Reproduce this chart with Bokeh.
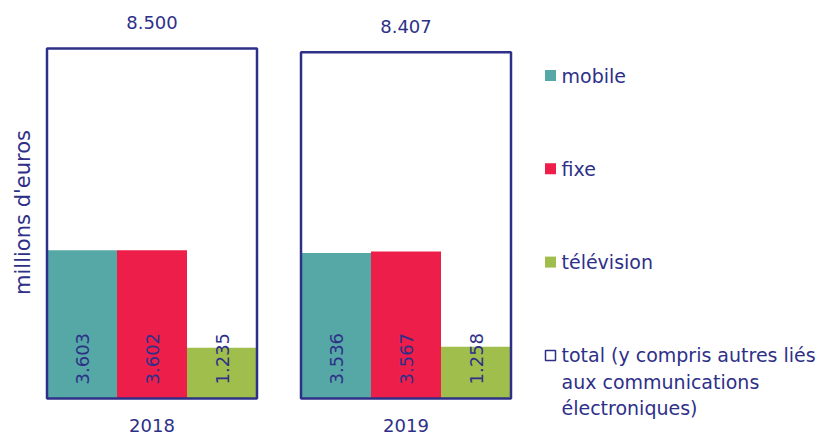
import math
from bokeh.plotting import figure
from bokeh.models import Range1d
from bokeh.core.properties import value
from bokeh.embed import file_html
from bokeh.resources import INLINE

# ---- data ----
years = ["2018", "2019"]
mobile = [3603, 3536]
fixe = [3602, 3567]
television = [1235, 1258]
total = [8500, 8407]
series_names = ["mobile", "fixe", "télévision"]
total_label = "total (y compris autres liés\naux communications\nélectroniques)"
y_title = "millions d'euros"

# ---- style ----
TEAL = "#55A8A6"
RED = "#EE1E4A"
GREEN = "#A0BE4B"
NAVY = "#2E3088"
FONT = value("DejaVu Sans")
FS = "18px"
FS_LEG = "19px"
FS_TITLE = "21px"

# layout helpers (pixel geometry of the picture -> data units)
ORG = 0              # page offset of the figure
X0 = 151.5           # picture x of first group centre
PXU = 254.0          # pixels between group centres
Y0 = 398.0           # picture y of zero line
PXV = 350.0 / 8500   # pixels per million euros


def px_to_x(px):
    return (px - X0) / PXU


def px_to_y(py):
    return (Y0 - py) / PXV


W, H = 819, 436
p = figure(width=W, height=H, output_backend="svg", toolbar_location=None,
           x_range=Range1d(px_to_x(ORG), px_to_x(ORG + W)),
           y_range=Range1d(px_to_y(ORG + H), px_to_y(ORG)),
           min_border=0, min_border_left=0, min_border_right=0,
           min_border_top=0, min_border_bottom=0)
p.axis.visible = False
p.grid.visible = False
p.outline_line_color = None
p.background_fill_color = "white"

gx = list(range(len(years)))
bw = 70.0 / PXU
tw = 3 * bw

# total box (fill)
p.vbar(x=gx, top=total, bottom=0, width=tw, fill_color="white", line_color=None)

offsets = [-bw, 0.0, bw]
colors = [TEAL, RED, GREEN]
vals = [mobile, fixe, television]
for off, col, v in zip(offsets, colors, vals):
    xs = [g + off for g in gx]
    p.vbar(x=xs, top=v, bottom=0, width=bw, fill_color=col, line_color=None)
    p.text(x=xs, y=[14 / PXV] * len(xs),
           text=[f"{a:,}".replace(",", ".") for a in v],
           angle=math.pi / 2, text_align="left", text_baseline="middle",
           text_font=FONT, text_font_size=FS, text_color=NAVY)

# total box outline on top
p.vbar(x=gx, top=total, bottom=0, width=tw, fill_color=None,
       line_color=NAVY, line_width=2.5)

# total labels above boxes
p.text(x=gx, y=[t + 26 / PXV for t in total],
       text=[f"{t:,}".replace(",", ".") for t in total],
       text_align="center", text_baseline="middle",
       text_font=FONT, text_font_size=FS, text_color=NAVY)

# year labels
p.text(x=gx, y=[px_to_y(424.5)] * len(gx), text=years,
       text_align="center", text_baseline="middle",
       text_font=FONT, text_font_size=FS, text_color=NAVY)

# y title
p.text(x=[px_to_x(22)], y=[px_to_y(212)], text=[y_title], angle=math.pi / 2,
       text_align="center", text_baseline="middle",
       text_font=FONT, text_font_size=FS_TITLE, text_color=NAVY)

# legend (manual)
rows = [75 + i * 93.3 for i in range(4)]
sq_x = px_to_x(550)
tx_x = px_to_x(561)
for yc, name, col in zip(rows[:3], series_names, colors):
    p.rect(x=[sq_x], y=[px_to_y(yc)], width=11, height=11,
           width_units="screen", height_units="screen",
           fill_color=col, line_color=None)
    p.text(x=[tx_x], y=[px_to_y(yc)], text=[name],
           text_align="left", text_baseline="middle",
           text_font=FONT, text_font_size=FS_LEG, text_color=NAVY)

p.rect(x=[sq_x], y=[px_to_y(rows[3])], width=10, height=10,
       width_units="screen", height_units="screen",
       fill_color="white", line_color=NAVY, line_width=1.5)
p.text(x=[tx_x], y=[px_to_y(rows[3] - 11)], text=[total_label],
       text_align="left", text_baseline="top", text_line_height=1.2,
       text_font=FONT, text_font_size=FS_LEG, text_color=NAVY)

open("out.html", "w").write(file_html(p, INLINE))
